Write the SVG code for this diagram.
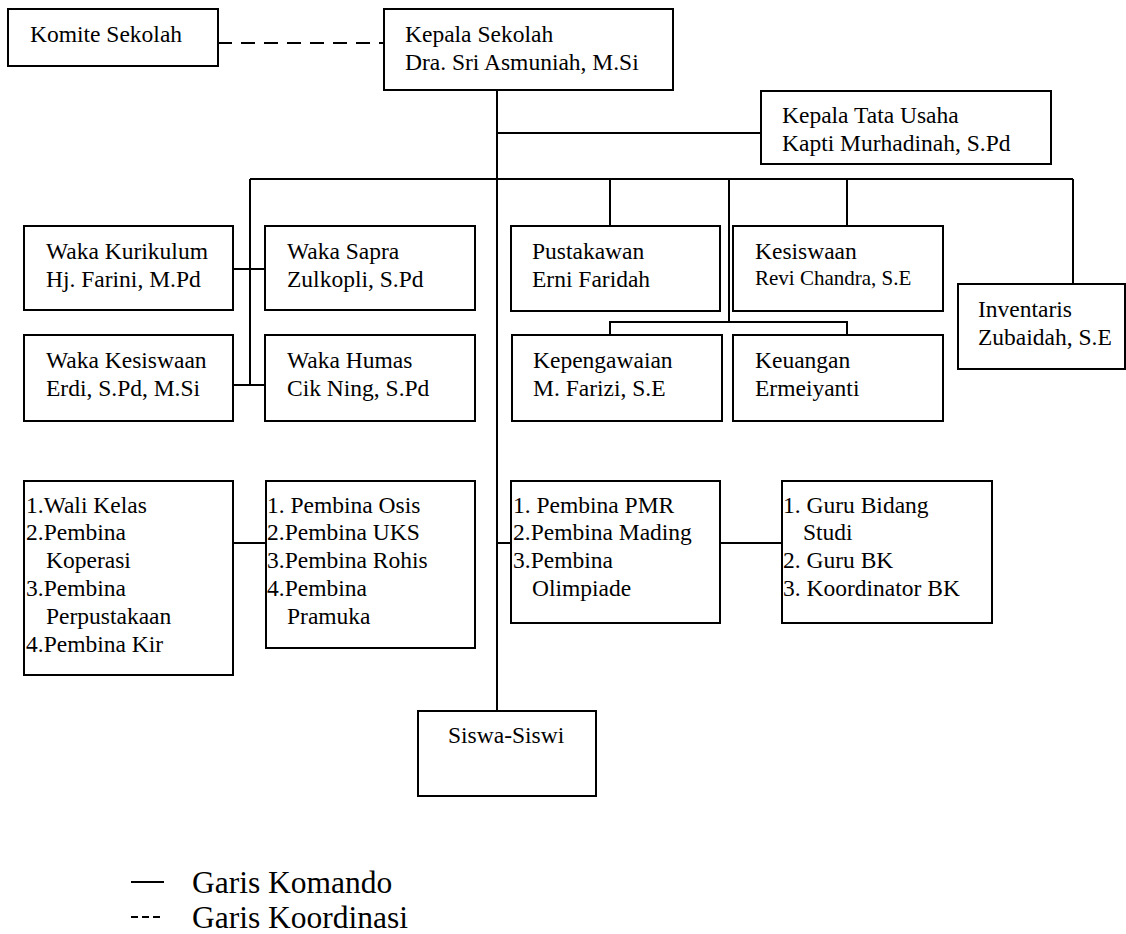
<svg xmlns="http://www.w3.org/2000/svg" width="1126" height="934" viewBox="0 0 1126 934" font-family="'Liberation Serif', 'DejaVu Serif', 'Times New Roman', serif">
<style>
.box{fill:#fff;stroke:#000;stroke-width:2}
.ln{stroke:#000;stroke-width:2;fill:none}
.dash{stroke:#000;stroke-width:2;fill:none;stroke-dasharray:14 9}
text{font-family:'Liberation Serif','DejaVu Serif','Times New Roman',serif;font-size:23.5px;fill:#000}
.sm{font-size:21px}
.lg{font-size:31.5px}
</style>
<rect width="1126" height="934" fill="#fff"/>
<g id="connectors">
<line class="dash" x1="218" y1="43" x2="384" y2="43"/>
<line class="ln" x1="497" y1="90" x2="497" y2="711"/>
<line class="ln" x1="497" y1="133" x2="761" y2="133"/>
<line class="ln" x1="250" y1="179" x2="1073" y2="179"/>
<line class="ln" x1="250" y1="179" x2="250" y2="385"/>
<line class="ln" x1="233" y1="269" x2="265" y2="269"/>
<line class="ln" x1="233" y1="385" x2="265" y2="385"/>
<line class="ln" x1="610" y1="179" x2="610" y2="226"/>
<line class="ln" x1="729" y1="179" x2="729" y2="322"/>
<line class="ln" x1="847" y1="179" x2="847" y2="226"/>
<line class="ln" x1="1073" y1="179" x2="1073" y2="284"/>
<polyline class="ln" points="610,335 610,322 847,322 847,335"/>
<line class="ln" x1="233" y1="543" x2="266" y2="543"/>
<line class="ln" x1="497" y1="543" x2="511" y2="543"/>
<line class="ln" x1="720" y1="543" x2="782" y2="543"/>
</g>
<g id="komite"><rect class="box" x="8" y="9" width="210" height="57"/><text x="30" y="42">Komite Sekolah</text></g>
<g id="kepala"><rect class="box" x="384" y="9" width="289" height="81"/><text x="405" y="42">Kepala Sekolah</text><text x="405" y="70">Dra. Sri Asmuniah, M.Si</text></g>
<g id="tatausaha"><rect class="box" x="761" y="91" width="290" height="73"/><text x="782" y="123">Kepala Tata Usaha</text><text x="782" y="151">Kapti Murhadinah, S.Pd</text></g>
<g id="wakakurikulum"><rect class="box" x="24" y="226" width="209" height="84"/><text x="46" y="259">Waka Kurikulum</text><text x="46" y="287">Hj. Farini, M.Pd</text></g>
<g id="wakasapra"><rect class="box" x="265" y="226" width="210" height="84"/><text x="287" y="259">Waka Sapra</text><text x="287" y="287">Zulkopli, S.Pd</text></g>
<g id="wakakesiswaan"><rect class="box" x="24" y="335" width="209" height="86"/><text x="46" y="368">Waka Kesiswaan</text><text x="46" y="396">Erdi, S.Pd, M.Si</text></g>
<g id="wakahumas"><rect class="box" x="265" y="335" width="210" height="86"/><text x="287" y="368">Waka Humas</text><text x="287" y="396">Cik Ning, S.Pd</text></g>
<g id="pustakawan"><rect class="box" x="511" y="226" width="209" height="85"/><text x="532" y="259">Pustakawan</text><text x="532" y="287">Erni Faridah</text></g>
<g id="kesiswaan"><rect class="box" x="733" y="226" width="210" height="85"/><text x="755" y="259">Kesiswaan</text><text class="sm" x="755" y="285">Revi Chandra, S.E</text></g>
<g id="kepegawaian"><rect class="box" x="512" y="335" width="210" height="86"/><text x="533" y="368">Kepengawaian</text><text x="533" y="396">M. Farizi, S.E</text></g>
<g id="keuangan"><rect class="box" x="733" y="335" width="210" height="86"/><text x="755" y="368">Keuangan</text><text x="755" y="396">Ermeiyanti</text></g>
<g id="inventaris"><rect class="box" x="958" y="284" width="167" height="85"/><text x="978" y="317">Inventaris</text><text x="978" y="345">Zubaidah, S.E</text></g>
<g id="walikelas"><rect class="box" x="24" y="481" width="209" height="194"/>
<text x="26" y="512.5">1.Wali Kelas</text><text x="26" y="540.3">2.Pembina</text><text x="46" y="568.1">Koperasi</text><text x="26" y="595.9">3.Pembina</text><text x="46" y="623.7">Perpustakaan</text><text x="26" y="651.5">4.Pembina Kir</text></g>
<g id="pembinaosis"><rect class="box" x="266" y="481" width="209" height="167"/>
<text x="267" y="512.5">1. Pembina Osis</text><text x="267" y="540.3">2.Pembina UKS</text><text x="267" y="568.1">3.Pembina Rohis</text><text x="267" y="595.9">4.Pembina</text><text x="287" y="623.7">Pramuka</text></g>
<g id="pembinapmr"><rect class="box" x="511" y="481" width="209" height="142"/>
<text x="513" y="512.5">1. Pembina PMR</text><text x="513" y="540.3">2.Pembina Mading</text><text x="513" y="568.1">3.Pembina</text><text x="532" y="595.9">Olimpiade</text></g>
<g id="guru"><rect class="box" x="782" y="481" width="210" height="142"/>
<text x="783" y="512.5">1. Guru Bidang</text><text x="803" y="540.3">Studi</text><text x="783" y="568.1">2. Guru BK</text><text x="783" y="595.9">3. Koordinator BK</text></g>
<g id="siswa"><rect class="box" x="418" y="711" width="178" height="85"/><text x="448" y="743">Siswa-Siswi</text></g>
<g id="legend">
<line class="ln" x1="131" y1="882" x2="164" y2="882"/>
<line class="ln" x1="131" y1="917" x2="164" y2="917" style="stroke-dasharray:7 4"/>
<text class="lg" x="192" y="893">Garis Komando</text>
<text class="lg" x="192" y="928">Garis Koordinasi</text>
</g>
</svg>
